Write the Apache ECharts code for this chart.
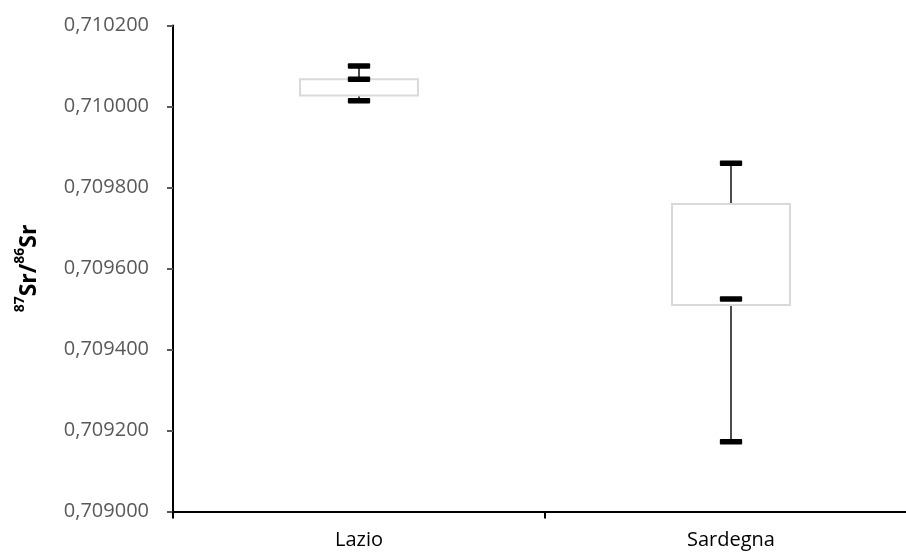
<!DOCTYPE html>
<html>
<head>
<meta charset="utf-8">
<script src="https://cdn.jsdelivr.net/npm/echarts@6/dist/echarts.min.js"></script>
<style>
html,body{margin:0;padding:0;background:#fff;overflow:hidden;width:906px;height:552px;}
#chart{width:920px;height:552px;}
</style>
</head>
<body>
<div id="chart"></div>
<script>
var categories = ['Lazio', 'Sardegna'];
var minValues = [0.710014, 0.709172];
var q1Values = [0.710027, 0.709510];
var medianValues = [0.710067, 0.709525];
var q3Values = [0.710067, 0.709759];
var maxValues = [0.710100, 0.709860];
var yMin = 0.709000;
var yMax = 0.710200;
var yStep = 0.000200;

var chart = echarts.init(document.getElementById('chart'));

var data = categories.map(function (c, i) {
  return [i, minValues[i], q1Values[i], medianValues[i], q3Values[i], maxValues[i]];
});

function renderItem(params, api) {
  var idx = api.value(0);
  var band = api.size([1, 0])[0];
  var pMin = api.coord([idx, api.value(1)]);
  var pQ1 = api.coord([idx, api.value(2)]);
  var pMed = api.coord([idx, api.value(3)]);
  var pQ3 = api.coord([idx, api.value(4)]);
  var pMax = api.coord([idx, api.value(5)]);
  var x = pMin[0];
  var boxW = band * 0.317;
  var capW = band * 0.06;
  var capH = 5.5;
  var children = [];
  var wStyle = { stroke: '#4d4d4d', lineWidth: 2 };
  children.push({ type: 'line', shape: { x1: x, y1: pMax[1], x2: x, y2: pQ3[1] }, style: wStyle });
  children.push({ type: 'line', shape: { x1: x, y1: pQ1[1], x2: x, y2: pMin[1] }, style: wStyle });
  children.push({
    type: 'rect',
    shape: { x: x - boxW / 2, y: pQ3[1], width: boxW, height: pQ1[1] - pQ3[1] },
    style: { fill: '#ffffff', stroke: '#d9d9d9', lineWidth: 2 }
  });
  [pMax, pMed, pMin].forEach(function (p) {
    children.push({
      type: 'rect',
      shape: { x: x - capW / 2, y: p[1] - capH / 2, width: capW, height: capH, r: 1 },
      style: { fill: '#000000' }
    });
  });
  return { type: 'group', children: children };
}

chart.setOption({
  animation: false,
  backgroundColor: '#ffffff',
  grid: { left: 173, width: 744, top: 25.5, bottom: 40.5, containLabel: false },
  xAxis: {
    type: 'category',
    data: categories,
    boundaryGap: true,
    axisLine: { lineStyle: { color: '#000000', width: 2 } },
    axisTick: { show: true, length: 7, lineStyle: { color: '#000000', width: 2 } },
    axisLabel: { margin: 19, color: '#000000', fontFamily: 'Open Sans', fontSize: 20 },
    splitLine: { show: false }
  },
  yAxis: {
    type: 'value',
    min: yMin,
    max: yMax,
    interval: yStep,
    axisLine: { show: true, lineStyle: { color: '#000000', width: 2 } },
    axisTick: { show: true, length: 6, lineStyle: { color: '#595959', width: 2 } },
    axisLabel: {
      margin: 24,
      color: '#595959',
      fontFamily: 'Open Sans',
      fontSize: 20,
      formatter: function (v) { return v.toFixed(6).replace('.', ','); }
    },
    splitLine: { show: false },
    name: '{sup|87}{main|Sr/}{sup|86}{main|Sr}',
    nameLocation: 'middle',
    nameRotate: 90,
    nameGap: 132,
    nameTextStyle: {
      rich: {
        main: { fontFamily: 'Open Sans', fontWeight: 'bold', fontSize: 23, color: '#000000', lineHeight: 28, verticalAlign: 'bottom' },
        sup: { fontFamily: 'Open Sans', fontWeight: 'bold', fontSize: 14, color: '#000000', lineHeight: 28, verticalAlign: 'top' }
      }
    }
  },
  series: [{
    type: 'custom',
    renderItem: renderItem,
    encode: { x: 0, y: [1, 2, 3, 4, 5] },
    data: data,
    clip: false
  }]
});
</script>
</body>
</html>
